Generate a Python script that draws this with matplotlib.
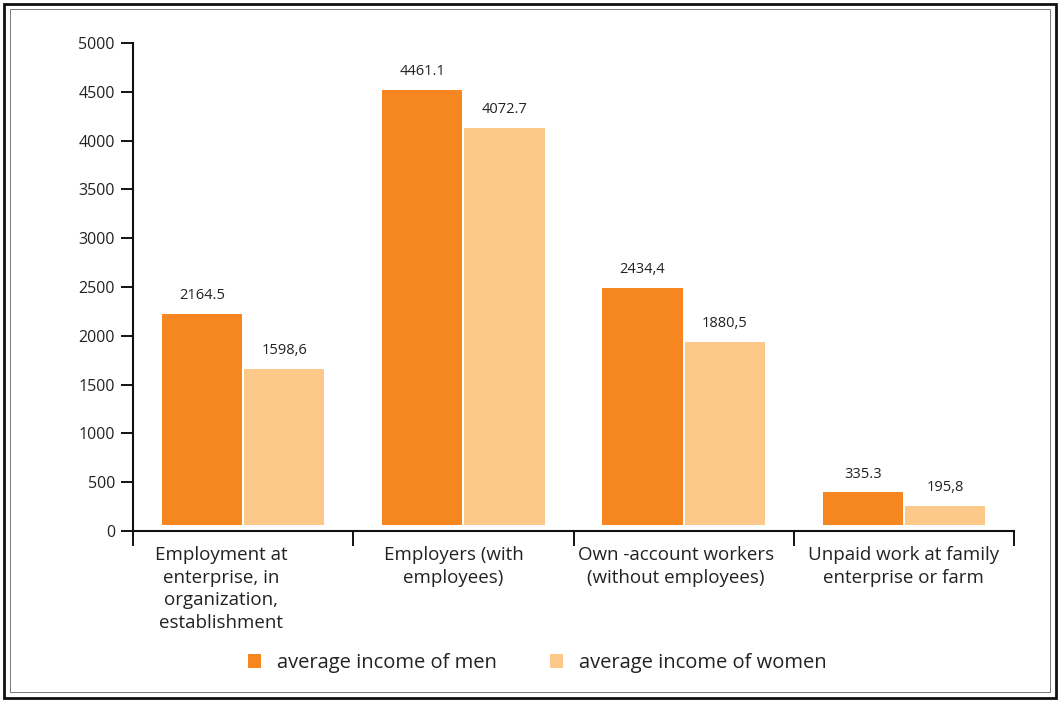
import matplotlib
matplotlib.use("Agg")
import matplotlib.pyplot as plt
from matplotlib.patches import Rectangle

plt.rcParams['font.family'] = ['Open Sans', 'DejaVu Sans']

categories = ["Employment at\nenterprise, in\norganization,\nestablishment",
              "Employers (with\nemployees)",
              "Own -account workers\n(without employees)",
              "Unpaid work at family\nenterprise or farm"]
men = [2164.5, 4461.1, 2434.4, 335.3]
women = [1598.6, 4072.7, 1880.5, 195.8]
men_labels = ["2164.5", "4461.1", "2434,4", "335.3"]
women_labels = ["1598,6", "4072.7", "1880,5", "195,8"]
yticks = [0, 500, 1000, 1500, 2000, 2500, 3000, 3500, 4000, 4500, 5000]

c_men = "#F6861F"
c_women = "#FDC98A"
label_shift = [-0.10, -0.045, -0.036, 0.0]  # horizontal placement of category labels

fig = plt.figure(figsize=(10.6, 7.01), dpi=100)
# frame
fig.patches.append(Rectangle((4/1060, 3/701), 1 - 8/1060, 1 - 7/701, transform=fig.transFigure,
                             fill=False, edgecolor="#111111", linewidth=2.0))
fig.patches.append(Rectangle((10/1060, 9/701), 1 - 20/1060, 1 - 18/701, transform=fig.transFigure,
                             fill=False, edgecolor="#777777", linewidth=0.7))

ax = fig.add_axes([133/1060, (701-531)/701, (1014-133)/1060, (531-43)/701])
x = [i + 0.5 for i in range(len(categories))]
w = 0.364
off = 0.187
base = 60
bm = ax.bar([xi - off for xi in x], men, width=w, bottom=base, color=c_men, label="average income of men")
bw = ax.bar([xi + off for xi in x], women, width=w, bottom=base, color=c_women, label="average income of women")
for xi, v, t in zip(x, men, men_labels):
    ax.text(xi - off, v + base + 110, t, ha="center", va="bottom", fontsize=10.5, color="#222222")
for xi, v, t in zip(x, women, women_labels):
    ax.text(xi + off, v + base + 110, t, ha="center", va="bottom", fontsize=10.5, color="#222222")

ax.set_xlim(0, 4)
ax.set_ylim(0, 5000)
ax.set_yticks(yticks)
ax.set_yticklabels([str(v) for v in yticks], fontsize=11.5, color="#222222")
ax.tick_params(axis="y", direction="out", length=9, width=1.3, pad=4)
ax.set_xticks([0, 1, 2, 3, 4])
ax.set_xticklabels([])
ax.tick_params(axis="x", which="major", direction="out", length=11, width=1.3)
ax.set_xticks([xi + s for xi, s in zip(x, label_shift)], minor=True)
ax.set_xticklabels(categories, minor=True, fontsize=13.5, color="#222222", linespacing=1.32)
ax.tick_params(axis="x", which="minor", length=0, pad=11)
for s in ["top", "right"]:
    ax.spines[s].set_visible(False)
for s in ["left", "bottom"]:
    ax.spines[s].set_linewidth(1.5)
    ax.spines[s].set_color("#111111")

leg = fig.legend(handles=[bm, bw], loc="center", bbox_to_anchor=(0.507, (701-663)/701), ncol=2,
                 frameon=False, fontsize=14.5, handlelength=0.65, handleheight=0.65,
                 columnspacing=2.6, handletextpad=0.8)
for t in leg.get_texts():
    t.set_color("#222222")

fig.savefig("out.png", dpi=100)
